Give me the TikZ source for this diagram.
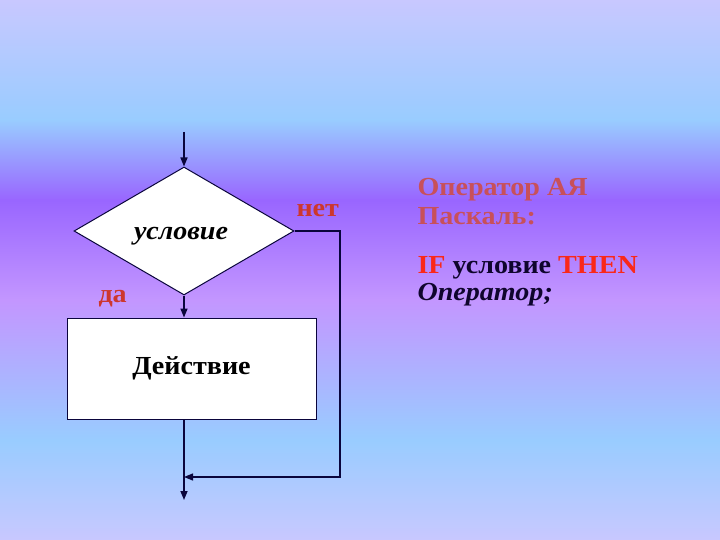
\documentclass[tikz,border=0pt]{standalone}
\usepackage{fontspec}
\setmainfont[FakeStretch=1.08]{Liberation Serif}
\usetikzlibrary{shapes.geometric,arrows.meta}
\definecolor{lineblue}{RGB}{10,5,60}
\definecolor{inkblue}{RGB}{15,5,45}
\definecolor{labred}{RGB}{205,55,45}
\definecolor{titlered}{RGB}{200,80,90}
\definecolor{ifred}{RGB}{250,40,25}
\definecolor{bglav}{RGB}{200,200,255}
\definecolor{bgsky}{RGB}{153,204,255}
\definecolor{bgviolet}{RGB}{153,102,255}
\definecolor{bglilac}{RGB}{195,150,255}
\newcommand{\bigfont}{\fontsize{26}{30}\selectfont}
\begin{document}
\begin{tikzpicture}[x=1pt,y=-1pt,
  line/.style={draw=lineblue,line width=1.5pt},
  arr/.style={line,-{Triangle[length=9pt,width=7pt]}},
  decision/.style={diamond,draw=lineblue,line width=1pt,fill=white,minimum width=220pt,minimum height=128pt,inner sep=0pt},
  action/.style={rectangle,draw=lineblue,line width=1pt,fill=white,minimum width=249pt,minimum height=101pt,font=\bfseries\bigfont,text=black},
  yesno/.style={anchor=base west,font=\bfseries\bigfont,text=labred},
  slide/.style={anchor=base west,font=\bfseries\bigfont}]
\useasboundingbox (0,0) rectangle (720,540);
\shade[top color=bglav,bottom color=bgsky] (0,0) rectangle (720,120);
\shade[top color=bgsky,bottom color=bgviolet] (0,120) rectangle (720,200);
\shade[top color=bgviolet,bottom color=bglilac] (0,200) rectangle (720,300);
\shade[top color=bglilac,bottom color=bgsky] (0,300) rectangle (720,440);
\shade[top color=bgsky,bottom color=bglav] (0,440) rectangle (720,540);

\coordinate (in) at (184,132);
\coordinate (loop) at (340,231);
\coordinate (join) at (184,477);
\coordinate (out) at (184,500);
\node[decision,label={[font=\bfseries\itshape\bigfont,text=black,xshift=-3pt,yshift=-5pt]center:условие}] (cond) at (184,231) {};
\node[action] (act) at (191.5,368.5) {Действие};
\node[yesno] (no) at (293,216) {нет};
\node[yesno] (yes) at (95,302) {да};

\draw[arr] (in) -- (cond.north);
\draw[arr] (cond.south) -- (cond.south |- act.north);
\draw[arr] (cond.south |- act.south) -- (out);
\draw[arr,line width=1.2pt] (cond.east) -- (loop) |- (join);

\node[slide,text=titlered] (title) at (414,196) {Оператор АЯ};
\node[slide,text=titlered] (lang) at (414,225) {Паскаль:};
\node[slide,text=inkblue] (code) at (414,273) {{\color{ifred}IF} условие {\color{ifred}THEN}};
\node[slide,text=inkblue,font=\bfseries\itshape\bigfont] (stmt) at (414,300) {Оператор;};
\end{tikzpicture}
\end{document}
